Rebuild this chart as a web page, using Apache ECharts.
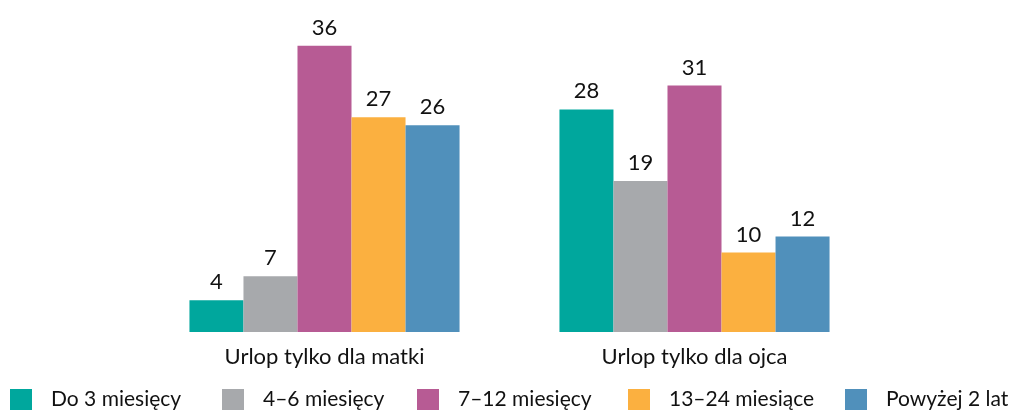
<!DOCTYPE html>
<html><head><meta charset="utf-8">
<script src="https://cdn.jsdelivr.net/npm/echarts@6/dist/echarts.min.js"></script>
<style>html,body{margin:0;padding:0;background:#fff}#c{width:1009px;height:412px}</style>
</head><body><div id="c"></div>
<script>
const categories = ["Urlop tylko dla matki", "Urlop tylko dla ojca"];
const seriesNames = ["Do 3 miesięcy", "4–6 miesięcy", "7–12 miesięcy", "13–24 miesiące", "Powyżej 2 lat"];
const do3 = [4, 28];
const m4_6 = [7, 19];
const m7_12 = [36, 31];
const m13_24 = [27, 10];
const over2 = [26, 12];
const values = [do3, m4_6, m7_12, m13_24, over2];
const colors = ["#00A79D", "#A7A9AC", "#B75B94", "#FBB040", "#5090BB"];
const FONT = "Lato";
const legendLefts = [10, 222, 417, 628, 845];

const chart = echarts.init(document.getElementById('c'));
chart.setOption({
  animation: false,
  color: colors,
  grid: {left: 139.5, right: 129.5, top: 14, bottom: 80},
  legend: seriesNames.map((n, i) => ({
    data: [n], left: legendLefts[i], top: 389, padding: 0, itemWidth: 22, itemHeight: 21,
    icon: 'rect',
    textStyle: {fontFamily: FONT, fontSize: 21, lineHeight: 21, color: '#111', padding: [0, 0, 0, 14]}
  })),
  xAxis: {
    type: 'category', data: categories,
    axisLine: {show: false}, axisTick: {show: false},
    axisLabel: {fontFamily: FONT, fontSize: 22, color: '#111', margin: 14}
  },
  yAxis: {type: 'value', min: 0, max: 40, show: false, splitLine: {show: false}},
  series: seriesNames.map((n, i) => ({
    name: n, type: 'bar', data: values[i],
    barGap: '0%', barCategoryGap: '27%',
    label: {show: true, position: 'top', distance: 7, fontFamily: FONT, fontSize: 22, color: '#111'}
  }))
});
</script></body></html>
